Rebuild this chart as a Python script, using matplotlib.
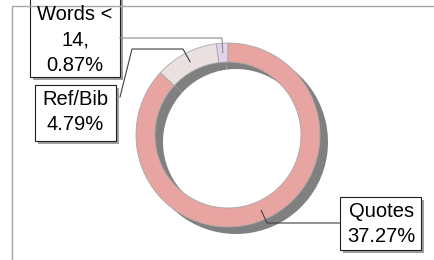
import numpy as np
import matplotlib
matplotlib.use("Agg")
import matplotlib.pyplot as plt
from matplotlib.patches import Rectangle

plt.rcParams['font.family'] = ['Liberation Sans', 'DejaVu Sans']

# data
labels = ['Words < 14', 'Ref/Bib', 'Quotes']
values = [0.87, 4.79, 37.27]
box_text = ['Words <\n14,\n0.87%', 'Ref/Bib\n4.79%', 'Quotes\n37.27%']
colors = ['#e2d2ec', '#ebe0e0', '#e8a4a0']

W, H = 434, 260


def px(x, y):
    # pixel coords (origin top-left) -> data coords
    return x, H - y


fig = plt.figure(figsize=(W / 100, H / 100), dpi=100)
ax = fig.add_axes([0, 0, 1, 1])

cx, cy = px(228, 135)
R = 92
ring_w = 19

# frame of the chart area (cut off at right/bottom)
ax.plot([12, 12, W + 5], [-5, H - 6, H - 6], color='#a6a6a6', lw=1)

# drop shadow ring
ax.pie(values, radius=R, center=(cx + 8, cy - 7), startangle=90,
       colors=['#808080'] * len(values),
       wedgeprops=dict(width=ring_w, linewidth=0))

wedges, _ = ax.pie(values, radius=R, center=(cx, cy), startangle=90,
                   colors=colors,
                   wedgeprops=dict(width=ring_w, edgecolor='#a8a8a8', linewidth=0.6))

# anchor points in the middle of each wedge
anchors = []
for w in wedges:
    mid = np.deg2rad((w.theta1 + w.theta2) / 2)
    r = R - ring_w / 2
    anchors.append((cx + r * np.cos(mid), cy + r * np.sin(mid)))

# leader lines: anchor -> elbow(s) -> box
elbows = [
    [px(222, 38), px(120, 38)],
    [px(183, 49), px(132, 49), px(120, 97)],
    [px(267, 223), px(340, 223)],
]
line_cols = ['#8c8c8c', '#404040', '#404040']
for a, pts, lc in zip(anchors, elbows, line_cols):
    xs = [a[0]] + [p[0] for p in pts]
    ys = [a[1]] + [p[1] for p in pts]
    ax.plot(xs, ys, color=lc, lw=0.8)

# label boxes (left, top, right, bottom in pixels)
boxes = [(30, -5, 120, 77), (35, 85, 116, 141), (340, 197, 421, 250)]
text_pos = [(75, 40, 'center'), (75, 112, 'center'), (347, 224, 'left')]
for (l, t, r, b), (tx, ty, ha), txt in zip(boxes, text_pos, box_text):
    ax.add_patch(Rectangle((l + 3, H - b - 3), r - l, b - t,
                           facecolor='#a0a0a0', edgecolor='none'))
    ax.add_patch(Rectangle((l, H - b), r - l, b - t,
                           facecolor='white', edgecolor='#202020', lw=0.8))
    x, y = px(tx, ty)
    ax.text(x, y, txt, ha=ha, va='center', multialignment='center',
            fontsize=14.5, linespacing=1.45, color='black')

ax.set_xlim(0, W)
ax.set_ylim(0, H)
ax.set_aspect('auto')
ax.axis('off')

fig.savefig('out.png', dpi=100)
